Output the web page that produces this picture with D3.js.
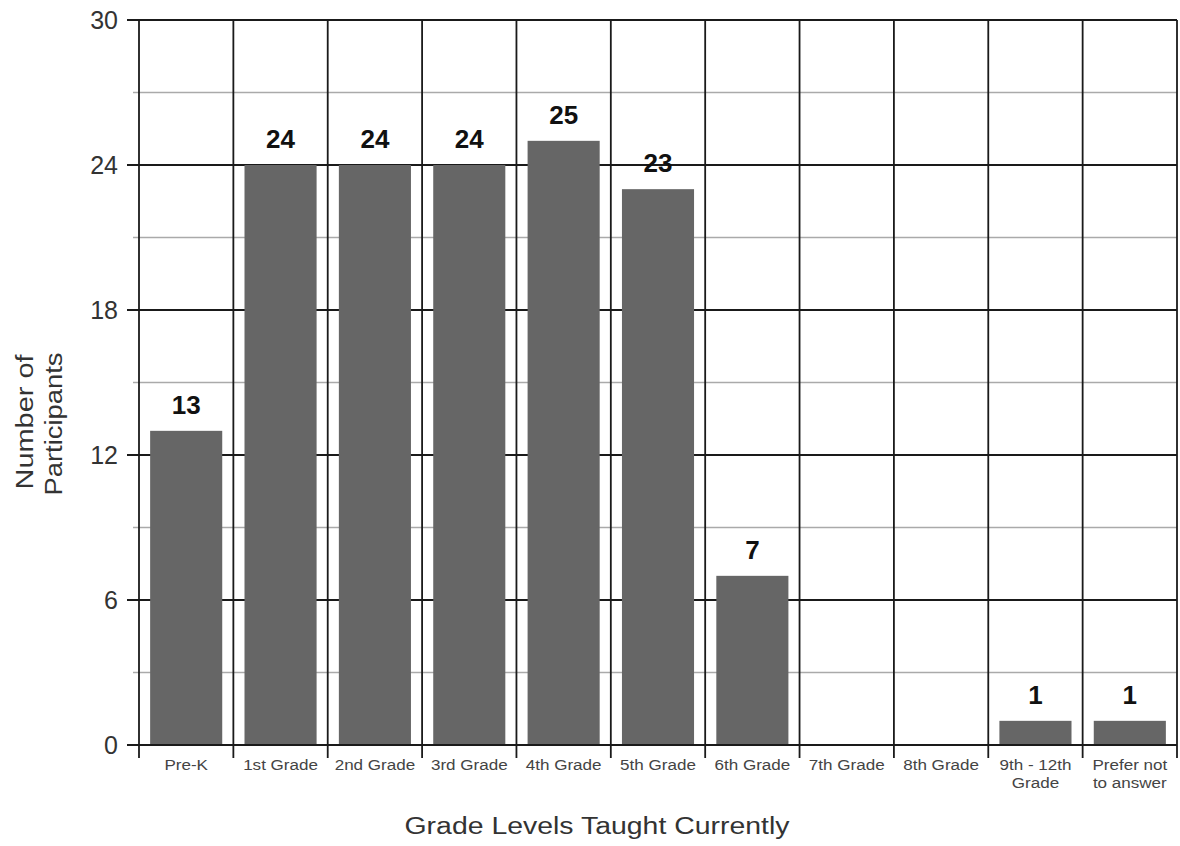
<!DOCTYPE html>
<html><head><meta charset="utf-8">
<script src="https://cdn.jsdelivr.net/npm/d3@7"></script>
<style>body{margin:0;background:#fff;} text{font-family:"Liberation Sans",Arial,sans-serif;}</style>
</head><body>
<svg id="chart" width="1180" height="846"></svg>
<script>
const categories = ["Pre-K","1st Grade","2nd Grade","3rd Grade","4th Grade","5th Grade","6th Grade","7th Grade","8th Grade","9th - 12th|Grade","Prefer not|to answer"];
const values = [13,24,24,24,25,23,7,0,0,1,1];
const yTicks = [0,6,12,18,24,30];
const yMinorTicks = [3,9,15,21,27];

const svg = d3.select("#chart");
const m = {left:139, right:1177, top:20, bottom:745};
const x = d3.scaleBand().domain(categories).range([m.left, m.right]).paddingInner(0.236).paddingOuter(0.118);
const xb = d3.scaleBand().domain(categories).range([m.left, m.right]);
const y = d3.scaleLinear().domain([0,30]).range([m.bottom, m.top]);

// minor gridlines
svg.append("g").selectAll("line").data(yMinorTicks).join("line")
  .attr("x1", m.left-6).attr("x2", m.right).attr("y1", d=>y(d)).attr("y2", d=>y(d))
  .attr("stroke","#aaaaaa").attr("stroke-width",1.5);
// major gridlines
svg.append("g").selectAll("line").data(yTicks).join("line")
  .attr("x1", m.left-12).attr("x2", m.right).attr("y1", d=>y(d)).attr("y2", d=>y(d))
  .attr("stroke","#1a1a1a").attr("stroke-width",1.8);
// vertical category lines
const bounds = categories.map(c=>xb(c)).concat([m.right]);
svg.append("g").selectAll("line").data(bounds).join("line")
  .attr("x1", d=>d).attr("x2", d=>d).attr("y1", m.top).attr("y2", m.bottom+13)
  .attr("stroke","#1a1a1a").attr("stroke-width",1.8);

// bars
svg.append("g").selectAll("rect").data(values).join("rect")
  .attr("x",(d,i)=>x(categories[i])).attr("width",x.bandwidth())
  .attr("y",d=>y(d)).attr("height",d=>y(0)-y(d))
  .attr("fill","#666666");
// baseline on top
svg.append("line").attr("x1",m.left).attr("x2",m.right).attr("y1",y(0)).attr("y2",y(0)).attr("stroke","#1a1a1a").attr("stroke-width",1.8);

// value labels
svg.append("g").selectAll("text").data(values.map((v,i)=>({v,i})).filter(d=>d.v>0)).join("text")
  .attr("x",d=>x(categories[d.i])+x.bandwidth()/2).attr("y",d=>y(d.v)-17)
  .attr("text-anchor","middle").attr("font-size",26).attr("font-weight","bold").attr("fill","#111")
  .text(d=>d.v);

// y tick labels
svg.append("g").selectAll("text").data(yTicks).join("text")
  .attr("x", m.left-21).attr("y", d=>y(d)+9).attr("text-anchor","end")
  .attr("font-size",25).attr("fill","#333").text(d=>d);

// x tick labels
const xl = svg.append("g").selectAll("text").data(categories).join("text")
  .attr("transform", d=>`translate(${xb(d)+xb.bandwidth()/2},${m.bottom+25}) scale(1.1,1)`)
  .attr("text-anchor","middle").attr("font-size",15.5).attr("fill","#444");
xl.each(function(d){
  const parts = d.split("|");
  d3.select(this).selectAll("tspan").data(parts).join("tspan")
    .attr("x", 0).attr("dy",(p,i)=> i===0?0:18).text(p=>p);
});

// axis titles
svg.append("text").attr("x",597).attr("y",834).attr("text-anchor","middle")
  .attr("font-size",23).attr("fill","#333")
  .attr("textLength",385).attr("lengthAdjust","spacingAndGlyphs")
  .text("Grade Levels Taught Currently");
const yt = svg.append("g").attr("transform","translate(0,422) rotate(-90)");
yt.append("text").attr("x",0).attr("y",33).attr("text-anchor","middle").attr("font-size",23).attr("fill","#333")
  .attr("textLength",135).attr("lengthAdjust","spacingAndGlyphs").text("Number of");
yt.append("text").attr("x",-2).attr("y",62).attr("text-anchor","middle").attr("font-size",23).attr("fill","#333")
  .attr("textLength",143).attr("lengthAdjust","spacingAndGlyphs").text("Participants");
</script>
</body></html>
